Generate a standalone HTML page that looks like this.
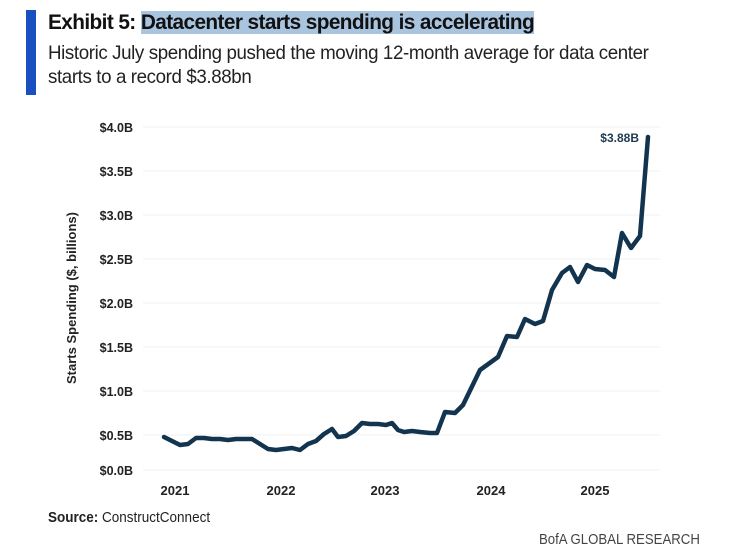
<!DOCTYPE html>
<html><head><meta charset="utf-8"><style>
body{margin:0;background:#fff;width:738px;height:551px;overflow:hidden;font-family:"Liberation Sans",sans-serif;position:relative}
.bar{position:absolute;left:26px;top:10px;width:10px;height:85px;background:#1a4fbf}
.t1{position:absolute;left:48px;top:11px;font-size:21px;font-weight:bold;color:#111;letter-spacing:-0.6px;transform:scaleX(0.99);transform-origin:left;white-space:nowrap}
.t1 span{background:#a9c4de}
.t2{position:absolute;left:48px;top:41px;font-size:19.5px;line-height:24px;color:#222;letter-spacing:-0.4px;transform:scaleX(0.96);transform-origin:left;white-space:nowrap}
.src{position:absolute;left:48px;top:509px;font-size:15px;color:#222;transform:scaleX(0.9);transform-origin:left}
.bofa{position:absolute;right:38px;top:531px;font-size:15px;color:#444;transform:scaleX(0.88);transform-origin:right}
</style></head><body>
<div class="bar"></div>
<div class="t1">Exhibit 5: <span>Datacenter starts spending is accelerating</span></div>
<div class="t2">Historic July spending pushed the moving 12-month average for data center<br>starts to a record $3.88bn</div>
<svg width="738" height="551" style="position:absolute;left:0;top:0">
<g stroke="#f0f0f0" stroke-width="1">
<line x1="143" x2="660" y1="127" y2="127"/><line x1="143" x2="660" y1="171" y2="171"/><line x1="143" x2="660" y1="215" y2="215"/><line x1="143" x2="660" y1="259" y2="259"/><line x1="143" x2="660" y1="303" y2="303"/><line x1="143" x2="660" y1="347" y2="347"/><line x1="143" x2="660" y1="391" y2="391"/><line x1="143" x2="660" y1="435" y2="435"/><line x1="143" x2="660" y1="470" y2="470"/>
</g>
<g font-size="12.5" font-weight="bold" fill="#222" text-anchor="end" font-family="Liberation Sans,sans-serif">
<text x="133" y="132">$4.0B</text><text x="133" y="176">$3.5B</text><text x="133" y="220">$3.0B</text><text x="133" y="264">$2.5B</text><text x="133" y="308">$2.0B</text><text x="133" y="352">$1.5B</text><text x="133" y="396">$1.0B</text><text x="133" y="440">$0.5B</text><text x="133" y="475">$0.0B</text>
</g>
<g font-size="13" font-weight="bold" fill="#222" text-anchor="middle">
<text x="175" y="495">2021</text><text x="281" y="495">2022</text><text x="385" y="495">2023</text><text x="491" y="495">2024</text><text x="595" y="495">2025</text>
</g>
<text transform="translate(76,298) rotate(-90)" font-size="13" font-weight="bold" fill="#222" text-anchor="middle" textLength="172" lengthAdjust="spacingAndGlyphs">Starts Spending ($, billions)</text>
<text x="639" y="142" font-size="12" font-weight="bold" fill="#1d3a52" text-anchor="end">$3.88B</text>
<polyline fill="none" stroke="#12344f" stroke-width="4.5" stroke-linejoin="round" stroke-linecap="round" points="164,437 172,441 180,445 188,444 196,438 204,438 212,439 220,439 228,440 236,439 244,439 252,439 260,444 268,449 276,450 284,449 292,448 300,450 308,444 316,441 324,434 332,429 338,437 346,436 354,431 362,423 370,424 378,424 386,425 392,423 398,430 404,432 412,431 420,432 430,433 437,433 445,412 455,413 463,405 480,370 498,357 507,336 517,337 525,319 535,324 543,321 552,290 562,273 570,267 578,282 587,265 595,269 605,270 614,277 622,233 631,248 640,236 648,137"/>
</svg>
<div class="src"><b>Source:</b> ConstructConnect</div>
<div class="bofa">BofA GLOBAL RESEARCH</div>
</body></html>
